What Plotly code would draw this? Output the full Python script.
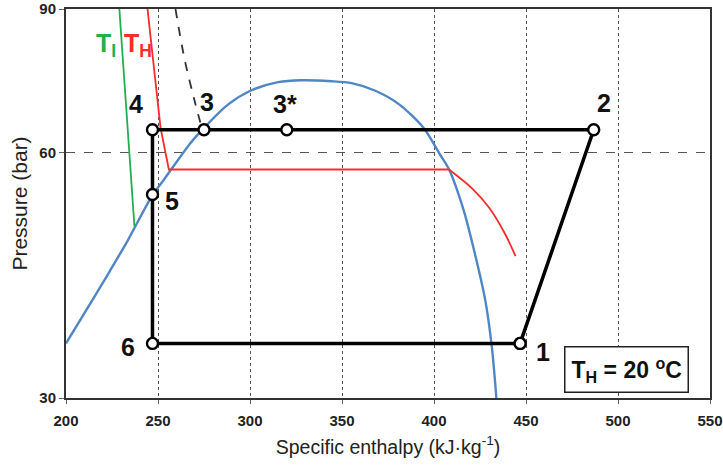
import math
import plotly.graph_objects as go

# --- data (h in kJ/kg, p in bar) ---
dome_h = [200, 214.75, 224.0, 233.3, 247.0, 253.0, 267.8, 274.9, 288.0, 300.5, 315.3, 327.9, 344.3, 355.2, 367.8, 380.9, 394.4, 403.0, 408.2, 416.1, 421.9, 427.9, 431.4, 433.9]
dome_p = [35.0, 39.7, 43.0, 46.7, 53.2, 55.5, 61.7, 64.3, 68.7, 71.5, 73.2, 73.6, 73.4, 73.0, 71.5, 68.8, 64.3, 59.8, 57.2, 51.0, 45.4, 39.5, 34.7, 30.0]

th_h = [244.3, 251.4, 255.9, 408.2, 420.8, 430.1, 438.8, 444.3]
th_p = [90.0, 64.3, 57.2, 57.2, 54.2, 51.3, 47.6, 44.8]

tl_h = [229.0, 237.2]
tl_p = [90.0, 48.7]

dash_h = [259.5, 264.5, 269.5, 273.0]
dash_p = [90.0, 78.0, 70.0, 65.3]

cyc_names = ["1", "2", "3*", "3", "4", "5", "6", "1"]
cyc_h = [446.8, 486.8, 320.0, 275.0, 247.0, 247.0, 247.0, 446.8]
cyc_p = [35.0, 64.0, 64.0, 64.0, 64.0, 53.3, 35.0, 35.0]

lbl_text = ["1", "2", "3", "3*", "4", "5", "6"]
lbl_h = [459.0, 492.5, 276.5, 319.0, 237.8, 257.8, 233.8]
lbl_p = [34.2, 69.0, 69.2, 68.9, 68.8, 52.3, 34.6]

x_ticks = [200, 250, 300, 350, 400, 450, 500, 550]
y_ticks = [30, 60, 90]

FONT = "Liberation Sans Narrow, Arial Narrow, Liberation Sans, Arial, sans-serif"
BLUE = "#4f86c6"
RED = "#ff2a2a"
GREEN = "#20b050"

fig = go.Figure()
fig.add_trace(go.Scatter(x=dome_h, y=dome_p, mode="lines",
                         line=dict(color=BLUE, width=2.4, shape="spline", smoothing=0.8), hoverinfo="skip"))
# T_H isotherm: straight part, then the curved tail
fig.add_trace(go.Scatter(x=th_h[:4], y=th_p[:4], mode="lines", line=dict(color=RED, width=1.8), hoverinfo="skip"))
fig.add_trace(go.Scatter(x=th_h[3:], y=th_p[3:], mode="lines",
                         line=dict(color=RED, width=1.8, shape="spline", smoothing=0.8), hoverinfo="skip"))
fig.add_trace(go.Scatter(x=tl_h, y=tl_p, mode="lines", line=dict(color=GREEN, width=1.8), hoverinfo="skip"))
fig.add_trace(go.Scatter(x=dash_h, y=dash_p, mode="lines",
                         line=dict(color="#333333", width=1.8, dash="dash", shape="spline"), hoverinfo="skip"))
fig.add_trace(go.Scatter(x=cyc_h, y=cyc_p, mode="lines+markers", line=dict(color="black", width=3.5),
                         marker=dict(symbol="circle", size=11, color="white", line=dict(color="black", width=2.4)),
                         text=cyc_names, hoverinfo="text"))

for t, h, p in zip(lbl_text, lbl_h, lbl_p):
    fig.add_annotation(x=h, y=math.log10(p), text=t, showarrow=False,
                       font=dict(family=FONT, size=25, color="#111111", weight="bold"))

fig.add_annotation(x=221.9, y=math.log10(81.3), text="T<sub>I</sub>", showarrow=False,
                   font=dict(family=FONT, size=25, color=GREEN, weight="bold"))
fig.add_annotation(x=239.3, y=math.log10(81.3), text="T<sub>H</sub>", showarrow=False,
                   font=dict(family=FONT, size=25, color=RED, weight="bold"))
fig.add_annotation(x=504.5, y=math.log10(32.5), text="T<sub>H</sub> = 20 <sup>o</sup>C", showarrow=False,
                   font=dict(family=FONT, size=23, color="#111111", weight="bold"),
                   bgcolor="white", bordercolor="#222222", borderwidth=1.5, borderpad=6)

fig.update_layout(
    width=723, height=469,
    margin=dict(l=66, r=13, t=9, b=71),
    paper_bgcolor="white", plot_bgcolor="white",
    showlegend=False,
    font=dict(family=FONT, color="#222222"),
)
fig.update_xaxes(range=[200, 550], tickvals=x_ticks, showgrid=True, gridcolor="#555555", griddash="dot", gridwidth=1,
                 showline=True, linecolor="#333333", linewidth=2, mirror=True, automargin=False,
                 ticks="outside", ticklen=4, tickcolor="#666666", ticklabelstandoff=4,
                 tickfont=dict(family=FONT, size=15, color="#222222", weight="bold"),
                 title=dict(text="Specific enthalpy (kJ·kg<sup>-1</sup>)", font=dict(family=FONT, size=19.5, color="#222222"), standoff=12),
                 zeroline=False)
fig.update_yaxes(type="log", range=[math.log10(30), math.log10(90)], tickvals=y_ticks, ticktext=[str(v) for v in y_ticks],
                 showgrid=True, gridcolor="#555555", griddash="dash", gridwidth=1,
                 showline=True, linecolor="#333333", linewidth=2, mirror=True, automargin=False,
                 ticks="outside", ticklen=5, tickcolor="#666666",
                 tickfont=dict(family=FONT, size=15, color="#222222", weight="bold"),
                 title=dict(text="Pressure (bar)", font=dict(family=FONT, size=21, color="#222222"), standoff=6),
                 zeroline=False)

fig.write_html("out.html")
